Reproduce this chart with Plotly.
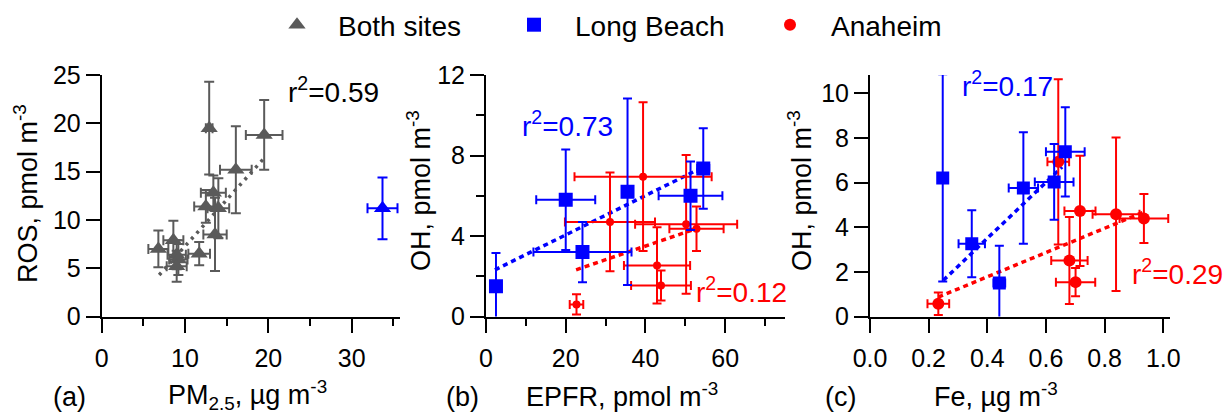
import plotly.graph_objects as go

# ---------------- data ----------------
# (a) ROS vs PM2.5, both sites
pm_both = [6.8, 8.6, 9.0, 9.2, 9.0, 11.7, 12.5, 13.4, 14.0, 13.6, 12.9, 16.1, 19.5]
ros_both = [7.0, 7.9, 6.4, 5.9, 5.2, 6.5, 11.4, 12.8, 11.2, 8.5, 19.5, 15.2, 18.8]
pm_both_err = [1.2, 1.2, 1.1, 1.1, 1.2, 1.3, 1.4, 1.5, 1.3, 1.4, 0.4, 1.9, 2.2]
ros_both_err = [1.9, 2.0, 1.5, 1.6, 1.6, 1.2, 1.7, 1.8, 3.1, 3.8, 4.8, 4.5, 3.6]
# outlier (Long Beach)
pm_lb = [33.7]
ros_lb = [11.2]
pm_lb_err = [1.8]
ros_lb_err = [3.2]
fit_a_x = [6.9, 19.5]
fit_a_y = [4.3, 16.4]

# (b) OH vs EPFR
epfr_lb = [2.5, 20.0, 24.2, 35.5, 51.3, 54.5]
oh_lb_b = [1.5, 5.8, 3.2, 6.2, 6.0, 7.35]
epfr_lb_err = [0.8, 7.4, 12.3, 1.3, 8.0, 1.5]
oh_lb_b_err = [1.65, 2.5, 1.5, 4.63, 1.7, 2.0]
epfr_an = [22.7, 31.1, 39.4, 42.9, 43.9, 50.2, 52.8]
oh_an_b = [0.6, 4.7, 6.95, 2.54, 1.54, 4.58, 4.36]
epfr_an_err = [1.7, 11.3, 17.2, 8.3, 7.5, 12.8, 6.8]
oh_an_b_err = [0.5, 2.45, 3.7, 1.9, 0.75, 3.45, 1.1]
fit_b_lb_x = [2.25, 53.2]
fit_b_lb_y = [2.32, 7.3]
fit_b_an_x = [22.6, 54.0]
fit_b_an_y = [2.32, 4.45]

# (c) OH vs Fe
fe_lb = [0.248, 0.347, 0.441, 0.523, 0.628, 0.666]
oh_lb_c = [6.21, 3.26, 1.5, 5.76, 6.03, 7.38]
fe_lb_err = [0.0, 0.045, 0.02, 0.05, 0.066, 0.066]
oh_lb_c_err = [4.64, 1.5, 1.67, 2.5, 1.7, 2.0]
fe_an = [0.233, 0.642, 0.716, 0.680, 0.701, 0.839, 0.934]
oh_an_c = [0.57, 6.93, 4.73, 2.51, 1.54, 4.58, 4.39]
fe_an_err = [0.037, 0.037, 0.053, 0.062, 0.067, 0.08, 0.083]
oh_an_c_err = [0.5, 3.7, 2.47, 1.95, 0.63, 3.44, 1.1]
fit_c_lb_x = [0.25, 0.655]
fit_c_lb_y = [1.62, 6.7]
fit_c_an_x = [0.233, 0.93]
fit_c_an_y = [0.87, 4.66]

# ---------------- style ----------------
FONT = "Liberation Sans, Arial, Helvetica, sans-serif"
GRAY = "#5a5a5a"
BLUE = "#0000ff"
RED = "#ff0000"
W, H = 1227, 416


def px(v):
    return v / W


def py(v):
    return 1 - v / H


def err(arr, color, width=4.5, thick=2):
    return dict(type="data", array=arr, visible=True, color=color,
                thickness=thick, width=width)


fig = go.Figure()

# ---- panel a ----
fig.add_trace(go.Scatter(x=fit_a_x, y=fit_a_y, mode="lines", xaxis="x", yaxis="y",
                         line=dict(color=GRAY, width=3.5, dash="3px,5px"), showlegend=False))
fig.add_trace(go.Scatter(x=pm_both, y=ros_both, mode="markers", xaxis="x", yaxis="y",
                         name="Both sites", legend="legend",
                         marker=dict(symbol="triangle-up", size=15, color=GRAY),
                         error_x=err(pm_both_err, GRAY, 5), error_y=err(ros_both_err, GRAY, 5)))
fig.add_trace(go.Scatter(x=pm_lb, y=ros_lb, mode="markers", xaxis="x", yaxis="y",
                         showlegend=False,
                         marker=dict(symbol="triangle-up", size=15, color=BLUE),
                         error_x=err(pm_lb_err, BLUE, 5), error_y=err(ros_lb_err, BLUE, 5)))

# ---- panel b ----
fig.add_trace(go.Scatter(x=fit_b_lb_x, y=fit_b_lb_y, mode="lines", xaxis="x2", yaxis="y2",
                         line=dict(color=BLUE, width=3.5, dash="5px,4px"), showlegend=False))
fig.add_trace(go.Scatter(x=fit_b_an_x, y=fit_b_an_y, mode="lines", xaxis="x2", yaxis="y2",
                         line=dict(color=RED, width=3.5, dash="5px,4px"), showlegend=False))
fig.add_trace(go.Scatter(x=epfr_an, y=oh_an_b, mode="markers", xaxis="x2", yaxis="y2",
                         showlegend=False,
                         marker=dict(symbol="circle", size=8, color=RED),
                         error_x=err(epfr_an_err, RED), error_y=err(oh_an_b_err, RED)))
fig.add_trace(go.Scatter(x=epfr_lb, y=oh_lb_b, mode="markers", xaxis="x2", yaxis="y2",
                         name="Long Beach", legend="legend2",
                         marker=dict(symbol="square", size=14, color=BLUE),
                         error_x=err(epfr_lb_err, BLUE), error_y=err(oh_lb_b_err, BLUE)))

# ---- panel c ----
fig.add_trace(go.Scatter(x=fit_c_lb_x, y=fit_c_lb_y, mode="lines", xaxis="x3", yaxis="y3",
                         line=dict(color=BLUE, width=3.5, dash="5px,4px"), showlegend=False))
fig.add_trace(go.Scatter(x=fit_c_an_x, y=fit_c_an_y, mode="lines", xaxis="x3", yaxis="y3",
                         line=dict(color=RED, width=3.5, dash="5px,4px"), showlegend=False))
fig.add_trace(go.Scatter(x=fe_an, y=oh_an_c, mode="markers", xaxis="x3", yaxis="y3",
                         name="Anaheim", legend="legend3",
                         marker=dict(symbol="circle", size=12, color=RED),
                         error_x=err(fe_an_err, RED), error_y=err(oh_an_c_err, RED)))
fig.add_trace(go.Scatter(x=fe_lb, y=oh_lb_c, mode="markers", xaxis="x3", yaxis="y3",
                         showlegend=False,
                         marker=dict(symbol="square", size=13, color=BLUE),
                         error_x=err(fe_lb_err, BLUE), error_y=err(oh_lb_c_err, BLUE)))

# ---------------- axes ----------------
tickfont = dict(family=FONT, size=25, color="black")
common = dict(showline=True, linecolor="black", linewidth=2, ticks="outside", ticklen=14,
              tickwidth=2, tickcolor="black", showgrid=False, zeroline=False, mirror=False,
              tickfont=tickfont, fixedrange=True, automargin=False)
xcommon = dict(common, ticklabelstandoff=4)
ydom = [py(316.5), py(75)]


def minor(d, ln=7):
    return dict(dtick=d, ticklen=ln, tickwidth=2, tickcolor="black", ticks="outside", showgrid=False)


fig.update_layout(
    xaxis=dict(xcommon, domain=[px(101.7), px(400)], range=[0, 35.8], dtick=10, tick0=0,
               minor=minor(5), anchor="y"),
    yaxis=dict(common, domain=ydom, range=[0, 25], dtick=5, tick0=0, anchor="x"),
    xaxis2=dict(xcommon, domain=[px(486), px(785)], range=[0, 75], dtick=20, tick0=0,
                minor=minor(10), anchor="y2"),
    yaxis2=dict(common, domain=ydom, range=[0, 12], dtick=4, tick0=0, minor=minor(2, 8),
                anchor="x2"),
    xaxis3=dict(xcommon, domain=[px(870), px(1170)], range=[0, 1.023], dtick=0.2, tick0=0,
                tickformat=".1f", anchor="y3"),
    yaxis3=dict(common, domain=ydom, range=[0, 10.82], dtick=2, tick0=0, anchor="x3"),
)

# ---------------- legends ----------------
legfont = dict(family=FONT, size=28, color="black")
legbase = dict(orientation="v", xanchor="left", yanchor="middle", y=py(25), font=legfont,
               bgcolor="rgba(0,0,0,0)", borderwidth=0, itemwidth=72, itemsizing="trace")
fig.update_layout(
    legend=dict(legbase, x=px(297 - 41)),
    legend2=dict(legbase, x=px(534 - 41)),
    legend3=dict(legbase, x=px(790 - 41)),
)

# ---------------- annotations ----------------
annfont = dict(family=FONT, size=28, color="black")
titfont = dict(family=FONT, size=27, color="black")
anns = [
    # r^2 labels
    dict(text="r<sup>2</sup>=0.59", x=px(286), y=py(90), xanchor="left", yanchor="middle",
         font=annfont),
    dict(text="r<sup>2</sup>=0.73", x=px(520), y=py(124), xanchor="left", yanchor="middle",
         font=dict(annfont, color=BLUE)),
    dict(text="r<sup>2</sup>=0.12", x=px(694), y=py(290), xanchor="left", yanchor="middle",
         font=dict(annfont, color=RED)),
    dict(text="r<sup>2</sup>=0.17", x=px(960), y=py(84), xanchor="left", yanchor="middle",
         font=dict(annfont, color=BLUE)),
    dict(text="r<sup>2</sup>=0.29", x=px(1130), y=py(272), xanchor="left", yanchor="middle",
         font=dict(annfont, color=RED)),
    # panel letters and x titles
    dict(text="(a)", x=px(69), y=py(397), xanchor="center", yanchor="middle", font=titfont),
    dict(text="PM<sub>2.5</sub>, µg m<sup>-3</sup>", x=px(166), y=py(395), xanchor="left",
         yanchor="middle", font=titfont),
    dict(text="(b)", x=px(462), y=py(397), xanchor="center", yanchor="middle", font=titfont),
    dict(text="EPFR, pmol m<sup>-3</sup>", x=px(524), y=py(395), xanchor="left",
         yanchor="middle", font=titfont),
    dict(text="(c)", x=px(840), y=py(397), xanchor="center", yanchor="middle", font=titfont),
    dict(text="Fe, µg m<sup>-3</sup>", x=px(932), y=py(395), xanchor="left",
         yanchor="middle", font=titfont),
    # y titles
    dict(text="ROS, pmol m<sup>-3</sup>", x=px(26), y=py(194), textangle=-90,
         xanchor="center", yanchor="middle", font=titfont),
    dict(text="OH, pmol m<sup>-3</sup>", x=px(419), y=py(191), textangle=-90,
         xanchor="center", yanchor="middle", font=titfont),
    dict(text="OH, pmol m<sup>-3</sup>", x=px(800), y=py(191), textangle=-90,
         xanchor="center", yanchor="middle", font=titfont),
]
for a in anns:
    a.update(xref="paper", yref="paper", showarrow=False)

fig.update_layout(
    annotations=anns,
    width=W, height=H, autosize=False,
    margin=dict(l=0, r=0, t=0, b=0, pad=0, autoexpand=False),
    paper_bgcolor="white", plot_bgcolor="white",
    font=dict(family=FONT, size=25, color="black"),
    showlegend=True,
)

fig.write_html("out.html", config={"displayModeBar": False},
               post_script="document.body.style.margin='0';document.body.style.overflow='hidden';")
